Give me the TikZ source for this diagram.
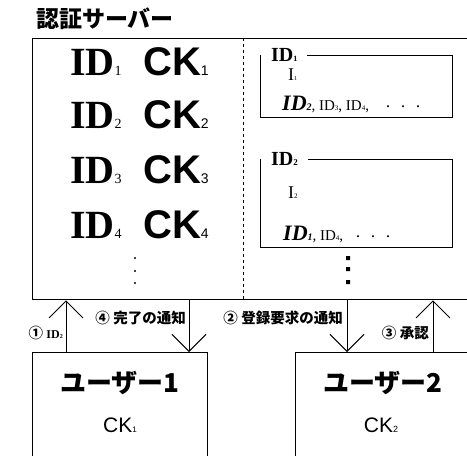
\documentclass[tikz,border=0pt]{standalone}
\usepackage{fontspec}
\setmainfont{Liberation Serif}
\newfontfamily\cjk{Noto Sans CJK JP}
\newfontfamily\sansf{Liberation Sans}
\usetikzlibrary{arrows.meta}
\newcommand{\fs}[1]{\fontsize{#1}{#1}\selectfont}
\begin{document}
\begin{tikzpicture}[x=1pt,y=-1pt,
  bigrow/.style={anchor=base west,inner sep=0pt,font=\fs{40}\bfseries},
  boxline/.style={draw,line width=0.8pt,inner sep=0pt,anchor=north west},
  boxlabel/.style={fill=white,anchor=west,inner xsep=10pt,inner ysep=2pt,font=\fs{20}\bfseries},
  txt/.style={anchor=base west,inner sep=0pt},
  arr/.style={line width=0.9pt,-{Straight Barb[length=17pt,width=34pt,line width=0.9pt]}},
  steplabel/.style={anchor=east,inner sep=0pt,font=\cjk\bfseries\fs{14.5}},
  userbox/.style={draw,line width=1.2pt,inner sep=0pt,anchor=north west,minimum width=175pt,minimum height=110pt},
  usertitle/.style={inner sep=0pt,font=\cjk\bfseries\fs{26}},
  userck/.style={inner sep=0pt,font=\sansf\fs{21}}]
\useasboundingbox (0,0) rectangle (467,456);
% title
\node[inner sep=0pt,font=\cjk\bfseries\fs{23}] (title) at (105,19) {認証サーバー};
% server box
\node[draw,line width=1.3pt,inner sep=0pt,anchor=north west,minimum width=440pt,minimum height=261pt] (srv) at (32,38) {};
\coordinate (dx) at (243,0);
\draw[line width=0.7pt,dash pattern=on 3pt off 3pt] (srv.north -| dx) -- (srv.south -| dx);
% left column
\foreach \i/\y in {1/75,2/128,3/183,4/238}{
  \node[bigrow] (id\i) at (70,\y) {ID{\fs{14}\mdseries\i}};
  \node[bigrow] (ck\i) at (143,\y) {{\sansf CK}{\sansf\fs{14}\mdseries\i}};
}
\fill (135,258) circle (1.2pt) (135,271) circle (1.2pt) (135,283) circle (1.2pt);
% right column box 1
\node[boxline,minimum width=192pt,minimum height=62pt] (box1) at (260,55) {};
\node[boxlabel] (box1l) at (261,55) {ID{\fs{8}1}};
\node[txt,font=\fs{18}] (box1i) at (288,80) {I{\fs{6}1}};
\node[txt,font=\fs{15}] (box1ids) at (282,110) {{\bfseries\itshape\fs{22}ID{\fs{10}2}}, ID{\fs{7}3}, ID{\fs{7}4},\hspace{14pt}{\cjk\fs{10}・\hspace{5pt}・\hspace{5pt}・}};
% right column box 2
\node[boxline,minimum width=192pt,minimum height=88pt] (box2) at (260,159) {};
\node[boxlabel] (box2l) at (261,159) {ID{\fs{9}2}};
\node[txt,font=\fs{18}] (box2i) at (288,198) {I{\fs{7}2}};
\node[txt,font=\fs{15}] (box2ids) at (283,240) {{\bfseries\itshape\fs{22}ID{\fs{10}1}}, ID{\fs{7}4},\hspace{10pt}{\cjk\fs{10}・\hspace{5pt}・\hspace{5pt}・}};
\fill (346,256) rectangle (350,260) (346,267) rectangle (350,271) (346,280) rectangle (350,284);
% users
\node[userbox] (u1) at (32,352) {};
\node[userbox] (u2) at (295,352) {};
\node[usertitle] (u1t) at (120,383) {ユーザー1};
\node[userck] (u1ck) at (120,425) {CK{\fs{8}1}};
\node[usertitle] (u2t) at (383,383) {ユーザー2};
\node[userck] (u2ck) at (381,425) {CK{\fs{9}2}};
% arrows
\coordinate (c1) at (66,0);
\coordinate (c4) at (189,0);
\coordinate (c2) at (347,0);
\coordinate (c3) at (433,0);
\draw[arr] (u1.north -| c1) -- (srv.south -| c1);
\draw[arr] (srv.south -| c4) -- (u1.north -| c4);
\draw[arr] (srv.south -| c2) -- (u2.north -| c2);
\draw[arr] (u2.north -| c3) -- (srv.south -| c3);
\node[steplabel] (l1) at (63,333) {① {\rmfamily\bfseries\fs{12}ID{\fs{6}2}}};
\node[steplabel] (l4) at (186,318) {④ 完了の通知};
\node[steplabel] (l2) at (343,318) {② 登録要求の通知};
\node[steplabel] (l3) at (429,333) {③ 承認};
\end{tikzpicture}
\end{document}
